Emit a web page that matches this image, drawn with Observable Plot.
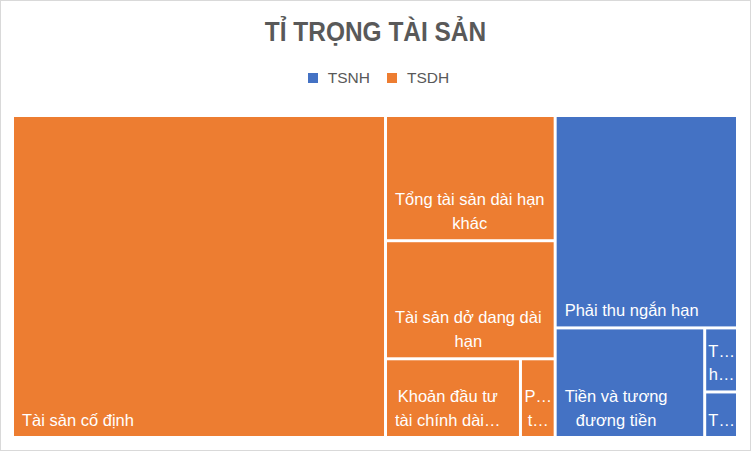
<!DOCTYPE html>
<html>
<head>
<meta charset="utf-8">
<script src="https://cdn.jsdelivr.net/npm/d3@7"></script>
<script src="https://cdn.jsdelivr.net/npm/@observablehq/plot@0.6"></script>
<style>
  html, body { margin: 0; padding: 0; background: #fff; }
  #chart { position: relative; width: 751px; height: 451px; overflow: hidden; background: #fff;
           font-family: "Liberation Sans", Arial, sans-serif; }
  #title { position: absolute; left: 0; top: 19px; width: 751px; text-align: center;
           font-family: "Liberation Sans", Arial, sans-serif; font-weight: bold;
           font-size: 27px; line-height: 27px; color: #595959;
           transform: scaleX(0.905); transform-origin: 375.5px 50%; }
  #legend { position: absolute; left: 0; top: 65px; width: 751px; height: 33px;
            display: flex; justify-content: center; align-items: center; }
  #plot { position: absolute; left: 0; top: 100px; }
  #frame { position: absolute; left: 0; top: 0; width: 751px; height: 451px; box-sizing: border-box;
           border: 1px solid #d9d9d9; pointer-events: none; }
  .lg-swatch { margin-right: 17px !important; }
  .lg-swatch > svg { margin-right: 10px !important; }
</style>
</head>
<body>
<div id="chart">
  <div id="title">TỈ TRỌNG TÀI SẢN</div>
  <div id="legend"></div>
  <div id="plot"></div>
  <div id="frame"></div>
</div>
<script>
// ---- data (share of total assets, %) ----
const groups = ["TSNH", "TSDH"];
const groupColors = ["#4472C4", "#ED7D31"];

const tsdhItems  = ["Tài sản cố định", "Tổng tài sản dài hạn khác", "Tài sản dở dang dài hạn", "Khoản đầu tư tài chính dài hạn", "Phải thu dài hạn"];
const tsdhValues = [51.45, 9.10, 8.58, 4.55, 1.17];
const tsdhLabels = ["Tài sản cố định", "Tổng tài sản dài hạn\nkhác", "Tài sản dở dang dài\nhạn", "Khoản đầu tư\ntài chính dài…", "P…\nt…"];

const tsnhItems  = ["Phải thu ngắn hạn", "Tiền và tương đương tiền", "Tài sản ngắn hạn khác", "Tồn kho"];
const tsnhValues = [16.59, 7.02, 0.90, 0.64];
const tsnhLabels = ["Phải thu ngắn hạn", "Tiền và tương\nđương tiền", "T…\nh…", "T…"];

// ---- layout ----
const W = 725, H = 322;          // treemap area (px units, incl. half gaps)
const labelFont = 16.5;
const labelFamily = "Liberation Sans";

const tree = {
  children: [
    { name: "TSDH", children: tsdhItems.map((n, i) => ({ name: n, value: tsdhValues[i], label: tsdhLabels[i] })) },
    { name: "TSNH", children: tsnhItems.map((n, i) => ({ name: n, value: tsnhValues[i], label: tsnhLabels[i] })) }
  ]
};
const root = d3.hierarchy(tree).sum(d => d.value || 0).sort((a, b) => b.value - a.value);
d3.treemap().tile(d3.treemapSquarify.ratio(1)).size([W, H]).round(false)(root);

const ctx = document.createElement("canvas").getContext("2d");
ctx.font = `${labelFont}px "${labelFamily}"`;

const tiles = root.leaves().map(d => {
  const lines = d.data.label.split("\n");
  const maxW = d3.max(lines, l => ctx.measureText(l).width);
  const blockW = Math.min(maxW, (d.x1 - d.x0) - 18);
  return {
    x0: d.x0, x1: d.x1, y0: d.y0, y1: d.y1,
    group: d.parent.data.name,
    name: d.data.name,
    label: d.data.label,
    lx: d.x0 + 9 + blockW / 2
  };
});

const plot = Plot.plot({
  width: 751,
  height: 351,
  margin: 0,
  style: { background: "transparent" },
  x: { domain: [0, W], range: [12.5, 737.5], axis: null },
  y: { domain: [0, H], range: [15.5, 337.5], axis: null },
  color: { domain: groups, range: groupColors },
  marks: [
    Plot.rect(tiles, { x1: "x0", x2: "x1", y1: "y0", y2: "y1", fill: "group", inset: 1.5 }),
    Plot.text(tiles, {
      x: "lx", y: "y1", text: "label",
      fill: "white", textAnchor: "middle", lineAnchor: "bottom",
      lineHeight: 1.42, fontSize: labelFont, fontFamily: labelFamily, dy: -12.5
    })
  ]
});
document.getElementById("plot").appendChild(plot);

const legend = Plot.legend({
  legend: "swatches",
  className: "lg",
  color: { domain: groups, range: groupColors },
  swatchSize: 10,
  style: { fontSize: "15.5px", color: "#595959", fontFamily: "Liberation Sans, Arial, sans-serif", marginLeft: "23px" }
});
document.getElementById("legend").appendChild(legend);
</script>
</body>
</html>
